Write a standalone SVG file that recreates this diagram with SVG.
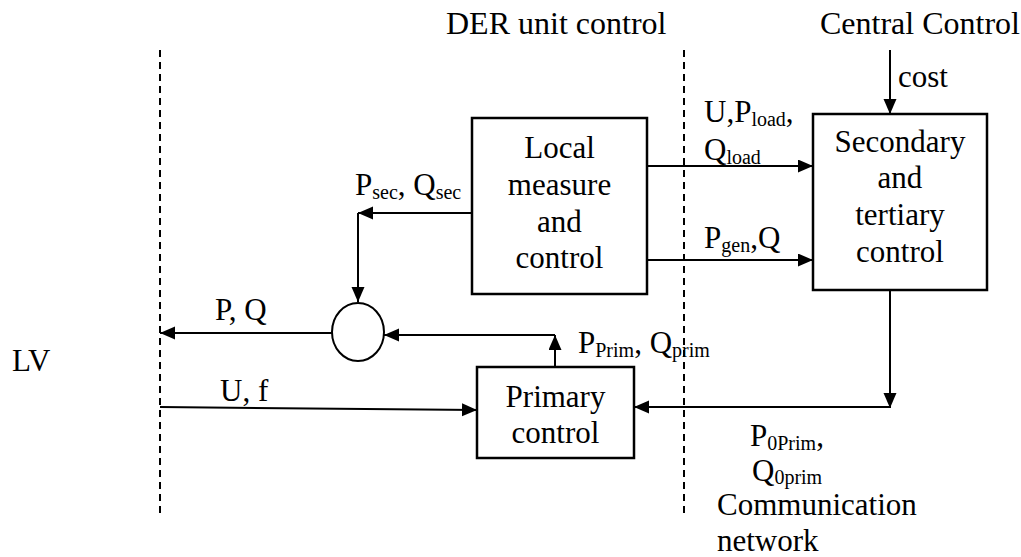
<svg xmlns="http://www.w3.org/2000/svg" width="1021" height="557" viewBox="0 0 1021 557" font-family="'Liberation Serif', 'DejaVu Serif', serif">
<style>
text{font-family:'Liberation Serif','DejaVu Serif',serif;font-size:31px;fill:#000}
.hdr{font-size:32px}
.sub{font-size:20px}
.box{fill:#fff;stroke:#000;stroke-width:2.5}
.ln{fill:none;stroke:#000;stroke-width:2}
.dash{fill:none;stroke:#000;stroke-width:2;stroke-dasharray:7 5}
.c{text-anchor:middle}
</style>
<defs>
<marker id="ah" markerUnits="userSpaceOnUse" markerWidth="16" markerHeight="14" refX="15" refY="6.5" orient="auto">
<path d="M0,0 L15,6.5 L0,13 z" fill="#000"/>
</marker>
</defs>
<rect width="1021" height="557" fill="#fff"/>
<g id="boundaries">
<line class="dash" x1="160" y1="50" x2="160" y2="516"/>
<line class="dash" x1="684" y1="50" x2="684" y2="516"/>
</g>
<g id="labels">
<text class="hdr" x="446" y="34">DER unit control</text>
<text class="hdr" x="820" y="34">Central Control</text>
<text x="12" y="371">LV</text>
<text x="717" y="515">Communication</text>
<text x="717" y="551">network</text>
</g>
<g id="local">
<rect class="box" x="472" y="118" width="175" height="176"/>
<text class="c" x="559.5" y="158">Local</text>
<text class="c" x="559.5" y="195">measure</text>
<text class="c" x="559.5" y="232">and</text>
<text class="c" x="559.5" y="268">control</text>
</g>
<g id="secondary">
<rect class="box" x="813" y="114" width="174" height="176"/>
<text class="c" x="900" y="152">Secondary</text>
<text class="c" x="900" y="188">and</text>
<text class="c" x="900" y="225">tertiary</text>
<text class="c" x="900" y="262">control</text>
</g>
<g id="primary">
<rect class="box" x="477" y="367" width="157" height="91"/>
<text class="c" x="555.5" y="407">Primary</text>
<text class="c" x="555.5" y="443">control</text>
</g>
<g id="sum">
<ellipse cx="358" cy="332" rx="26" ry="29" fill="#fff" stroke="#000" stroke-width="2"/>
</g>
<g id="connectors">
<path class="ln" d="M472,213 H358" marker-end="url(#ah)"/>
<path class="ln" d="M358,213 V302" marker-end="url(#ah)"/>
<path class="ln" d="M332,333 H160" marker-end="url(#ah)"/>
<path class="ln" d="M555,367 V335" marker-end="url(#ah)"/>
<path class="ln" d="M555,335 H384" marker-end="url(#ah)"/>
<path class="ln" d="M160,407 L477,410" marker-end="url(#ah)"/>
<path class="ln" d="M647,166 H813" marker-end="url(#ah)"/>
<path class="ln" d="M647,260 H813" marker-end="url(#ah)"/>
<path class="ln" d="M890,50 V114" marker-end="url(#ah)"/>
<path class="ln" d="M890,290 V408" marker-end="url(#ah)"/>
<path class="ln" d="M890,407 H634" marker-end="url(#ah)"/>
</g>
<g id="connector-labels">
<text x="355" y="195">P<tspan class="sub" dy="4">sec</tspan><tspan dy="-4">, Q</tspan><tspan class="sub" dy="4">sec</tspan></text>
<text x="215" y="320">P, Q</text>
<text x="220" y="401">U, f</text>
<text x="578" y="353">P<tspan class="sub" dy="4">Prim</tspan><tspan dy="-4">, Q</tspan><tspan class="sub" dy="4">prim</tspan></text>
<text x="704" y="122">U,P<tspan class="sub" dy="4">load</tspan><tspan dy="-4">,</tspan></text>
<text x="704" y="160">Q<tspan class="sub" dy="4">load</tspan></text>
<text x="704" y="248">P<tspan class="sub" dy="4">gen</tspan><tspan dy="-4">,Q</tspan></text>
<text x="898" y="87">cost</text>
<text x="750" y="446">P<tspan class="sub" dy="4">0Prim</tspan><tspan dy="-4">,</tspan></text>
<text x="752" y="481">Q<tspan class="sub" dy="3">0prim</tspan></text>
</g>
</svg>
